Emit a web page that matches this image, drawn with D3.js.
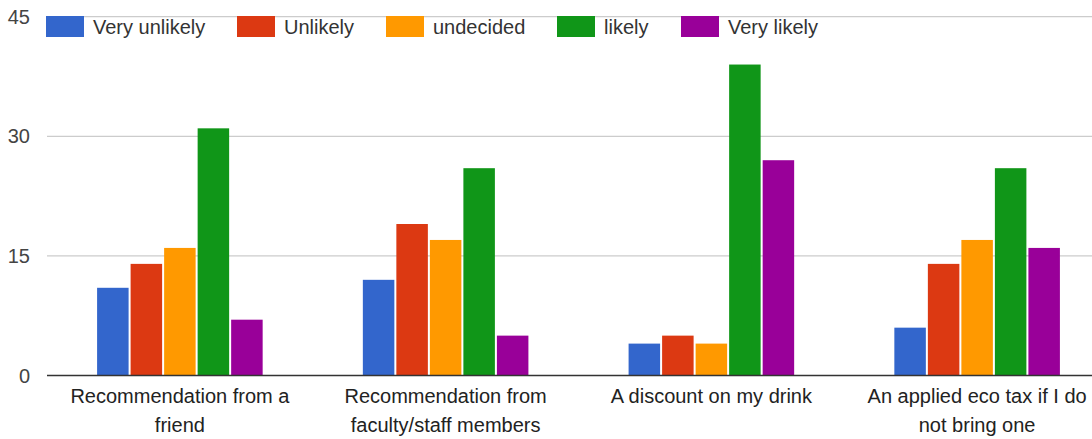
<!DOCTYPE html>
<html>
<head>
<meta charset="utf-8">
<script src="https://cdn.jsdelivr.net/npm/d3@7"></script>
<style>
  html, body { margin: 0; padding: 0; background: #fff; }
  svg { display: block; }
  text { font-family: "Liberation Sans", Arial, sans-serif; }
</style>
</head>
<body>
<svg id="chart" width="1092" height="439"></svg>
<script>
// Survey responses per incentive
const categories = [
  ["Recommendation from a", "friend"],
  ["Recommendation from", "faculty/staff members"],
  ["A discount on my drink"],
  ["An applied eco tax if I do", "not bring one"]
];
const seriesNames = ["Very unlikely", "Unlikely", "undecided", "likely", "Very likely"];
const veryUnlikely = [11, 12, 4, 6];
const unlikely     = [14, 19, 5, 14];
const undecided    = [16, 17, 4, 17];
const likely       = [31, 26, 39, 26];
const veryLikely   = [7, 5, 27, 16];
const yTicks = [0, 15, 30, 45];
const colors = ["#3366cc", "#dc3912", "#ff9900", "#109618", "#990099"];

const series = [veryUnlikely, unlikely, undecided, likely, veryLikely];

const svg = d3.select("#chart");
const plotLeft = 47, plotRight = 1110, plotTop = 16.7, plotBottom = 375.5;

const x0 = d3.scaleBand()
  .domain(d3.range(categories.length))
  .range([plotLeft, plotRight])
  .paddingInner(0.377)
  .paddingOuter(0.1885);

const x1 = d3.scaleBand()
  .domain(d3.range(seriesNames.length))
  .range([0, x0.bandwidth()])
  .paddingInner(0.06);

const y = d3.scaleLinear().domain([0, 45]).range([plotBottom, plotTop]);

// gridlines
svg.append("g")
  .selectAll("line")
  .data(yTicks.filter(t => t !== 0))
  .join("line")
  .attr("x1", plotLeft).attr("x2", 1092)
  .attr("y1", d => y(d)).attr("y2", d => y(d))
  .attr("stroke", "#cccccc").attr("stroke-width", 1.2);

// y tick labels
svg.append("g")
  .selectAll("text")
  .data(yTicks)
  .join("text")
  .attr("x", 30)
  .attr("y", d => y(d))
  .attr("dy", "0.35em")
  .attr("text-anchor", "end")
  .attr("font-size", 20)
  .attr("fill", "#444")
  .text(d => d);

// bars
const groups = svg.append("g")
  .selectAll("g")
  .data(categories.map((c, i) => i))
  .join("g")
  .attr("transform", i => `translate(${x0(i)},0)`);

groups.selectAll("rect")
  .data(i => series.map((s, k) => ({ k, v: s[i] })))
  .join("rect")
  .attr("x", d => x1(d.k))
  .attr("width", x1.bandwidth())
  .attr("y", d => y(d.v))
  .attr("height", d => y(0) - y(d.v))
  .attr("fill", d => colors[d.k]);

// baseline
svg.append("line")
  .attr("x1", plotLeft).attr("x2", 1092)
  .attr("y1", y(0)).attr("y2", y(0))
  .attr("stroke", "#333").attr("stroke-width", 1.5);

// category labels
const lab = svg.append("g")
  .selectAll("text")
  .data(categories)
  .join("text")
  .attr("x", (d, i) => x0(i) + x0.bandwidth() / 2)
  .attr("y", 403)
  .attr("text-anchor", "middle")
  .attr("font-size", 20)
  .attr("fill", "#222");
lab.selectAll("tspan")
  .data(d => d)
  .join("tspan")
  .attr("x", function () { return d3.select(this.parentNode).attr("x"); })
  .attr("dy", (d, j) => j === 0 ? 0 : 29)
  .text(d => d);

// legend
const legendX = [46, 237, 386, 557, 681];
const leg = svg.append("g")
  .selectAll("g")
  .data(seriesNames)
  .join("g")
  .attr("transform", (d, i) => `translate(${legendX[i]},16)`);
leg.append("rect")
  .attr("width", 38).attr("height", 21)
  .attr("fill", (d, i) => colors[i]);
leg.append("text")
  .attr("x", 47).attr("y", 18)
  .attr("font-size", 20).attr("fill", "#333")
  .text(d => d);
</script>
</body>
</html>
